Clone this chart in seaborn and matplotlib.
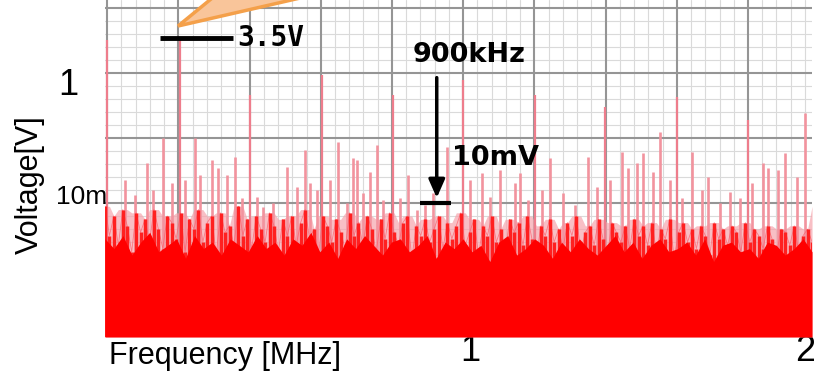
import numpy as np
import matplotlib
matplotlib.use("Agg")
import matplotlib.pyplot as plt
import matplotlib.transforms as mtransforms
from matplotlib.patches import Polygon
from matplotlib.ticker import NullLocator
import seaborn as sns

# ---------------------------------------------------------------- data
# displayed span (MHz) and level range (V)
F_LO, F_HI = -0.09, 2.02
V_LO, V_HI = 8.7e-5, 13.3

# carrier and its harmonics
harmonic_mhz = [-0.084, 0.134, 0.343, 0.558, 0.770, 0.979, 1.194, 1.403, 1.618, 1.830]
harmonic_v = [3.2, 3.5, 0.46, 0.93, 0.46, 0.78, 0.46, 0.30, 0.43, 0.19]

# intermediate spurs
spur_mhz = [-0.030, 0.000, 0.036, 0.054, 0.084, 0.110, 0.149, 0.179, 0.194, 0.230,
            0.248, 0.275, 0.299, 0.319, 0.364, 0.382, 0.412, 0.454, 0.484, 0.507,
            0.522, 0.543, 0.582, 0.606, 0.633, 0.651, 0.663, 0.681, 0.701, 0.722,
            0.740, 0.791, 0.815, 0.842, 0.866, 0.890, 0.931, 1.000, 1.036, 1.060,
            1.090, 1.134, 1.149, 1.173, 1.215, 1.239, 1.278, 1.313, 1.352, 1.379,
            1.418, 1.454, 1.472, 1.499, 1.516, 1.546, 1.567, 1.597, 1.633, 1.663,
            1.693, 1.710, 1.746, 1.776, 1.806, 1.842, 1.875, 1.890, 1.919, 1.940,
            1.976, 2.000]
spur_mv = [22.6, 13.3, 41.2, 15.8, 100, 20.3, 22.6, 100, 27.0, 45.9,
           34.5, 27.0, 51.0, 11.9, 12.4, 8.7, 10.0, 35.8, 17.6, 65.4,
           20.3, 15.8, 22.6, 86.7, 10.0, 49.2, 45.9, 14.3, 30.0, 78.0,
           11.1, 11.9, 27.0, 7.8, 9.3, 14.3, 72.8, 22.6, 29.0, 12.4,
           32.2, 20.3, 29.0, 11.1, 15.8, 49.2, 14.3, 9.3, 51.0, 17.6,
           22.6, 60.9, 34.5, 41.2, 58.8, 30.0, 123.6, 22.6, 11.9, 60.9,
           15.8, 25.1, 10.0, 14.8, 11.9, 20.3, 41.2, 34.5, 32.2, 58.8,
           25.1, 241]

# noise grass, dBV per sweep bin
grass_dbv = [-41, -50, -44, -53, -42, -47, -55, -43, -49, -45, -52, -42, -48, -54, -44, -46, -51, -43, -55, -45,
             -48, -42, -52, -46, -44, -56, -43, -49, -47, -53, -41, -50, -45, -54, -44, -48, -52, -43, -47, -55,
             -45, -50, -44, -53, -46, -42, -51, -48, -56, -44, -47, -52, -45, -49, -54, -43, -50, -46, -53, -44,
             -48, -55, -45, -51, -43, -49, -53, -46, -44, -57, -47, -50, -45, -52, -48, -44, -54, -46, -51, -47,
             -43, -53, -49, -45, -56, -47, -50, -44, -52, -48, -55, -45, -49, -46, -53, -44, -51, -57, -47, -50,
             -45, -52, -48, -54, -46, -50, -44, -55, -49, -47, -53, -45, -51, -56, -46, -49, -52, -47, -54, -45,
             -50, -47, -53, -46, -55, -48, -51, -45, -57, -49, -46, -52, -48, -54, -47, -50, -56, -46, -51, -48,
             -53, -47, -49, -55, -46, -52, -48, -50, -54, -47, -51, -56, -48, -49, -53, -47, -55, -50, -48, -52]

# noise floor, dBV per sweep bin
floor_dbv = [-51, -54, -50, -56, -52, -49, -55, -53, -51, -57, -50, -54, -52, -56, -51, -53, -55, -50, -54, -52,
             -56, -51, -53, -49, -55, -52, -57, -51, -54, -50, -53, -56, -52, -51, -55, -53, -50, -57, -52, -54,
             -51, -55, -53, -58, -52, -50, -56, -54, -51, -53, -57, -52, -55, -51, -54, -56, -53, -50, -55, -52,
             -57, -53, -51, -55, -54, -52, -56, -51, -58, -53, -52, -55, -54, -57, -52, -53, -56, -54, -51, -55]

x_ticks = [1, 2]
x_ticklabels = ["1", "2"]
y_ticks = [1, 0.01]
y_ticklabels = ["1", "10m"]

# ---------------------------------------------------------------- style
sns.set_style("white")
plt.rcParams["font.family"] = ["Liberation Sans", "DejaVu Sans"]
for key in ("text.color", "axes.labelcolor", "xtick.color", "ytick.color"):
    plt.rcParams[key] = "black"

fig = plt.figure(figsize=(8.14, 3.81), dpi=100)
ax = fig.add_axes([0.129, 0.1155, 0.8686, 0.8845])
ax.set_yscale("log")
ax.set_xlim(F_LO, F_HI)
ax.set_ylim(V_LO, V_HI)
for s in ax.spines.values():
    s.set_visible(False)

# analyzer graticule: 0.2125 MHz divisions, 5 sub-divisions; 5 steps per decade
GRID_X0, GRID_DX = -0.0836, 0.2125
i = 0
while GRID_X0 + i * GRID_DX / 5 <= F_HI:
    gx = GRID_X0 + i * GRID_DX / 5
    major = i % 5 == 0
    ax.axvline(gx, color="#959595" if major else "#dadada",
               lw=1.5 if major else 0.8, zorder=0.5 if major else 0.2)
    i += 1
for dec in range(-5, 2):
    for j in range(5):
        gy = 10.0 ** (dec + j / 5)
        major = j == 0
        ax.axhline(gy, color="#959595" if major else "#dadada",
                   lw=1.5 if major else 0.8, zorder=0.5 if major else 0.2)

# ---------------------------------------------------------------- trace
grass_f = np.linspace(F_LO, F_HI, len(grass_dbv))
grass_v = 10 ** (np.array(grass_dbv) / 20.0)
haze_v = np.maximum(grass_v, np.maximum(np.roll(grass_v, 1), np.roll(grass_v, -1)))
floor_f = np.linspace(F_LO, F_HI, len(floor_dbv))
floor_v = 10 ** (np.array(floor_dbv) / 20.0)

ax.fill_between(grass_f, V_LO, haze_v, color="#f6a4ad", alpha=0.7, lw=0, zorder=1)
ax.vlines(spur_mhz, V_LO, np.array(spur_mv) / 1000.0, color="#f2939e", lw=1.9, zorder=1.5)
ax.vlines(harmonic_mhz, V_LO, harmonic_v, color="#ee7d8c", lw=1.6, zorder=1.6)
ax.vlines(grass_f, V_LO, grass_v, color="#ff2020", lw=2.5, zorder=2)
sns.lineplot(x=grass_f, y=grass_v, ax=ax, color="#ff5a66", lw=0.6, alpha=0.7, zorder=1.9)
ax.fill_between(floor_f, V_LO, floor_v, color="#ff0000", lw=0, zorder=3)

# ---------------------------------------------------------------- notes
ax.plot([0.075, 0.293], [3.5, 3.5], color="black", lw=3.5, solid_capstyle="butt", zorder=6)
ax.text(0.304, 3.5, "3.5V", family="DejaVu Sans Mono", weight="bold", fontsize=20,
        ha="left", va="center", zorder=6)

ax.annotate("", xy=(0.9, 0.012), xytext=(0.9, 0.85),
            arrowprops=dict(arrowstyle="-|>,head_length=0.5,head_width=0.22",
                            color="black", lw=2.5, mutation_scale=22,
                            shrinkA=0, shrinkB=0), zorder=6)
ax.text(0.827, 1.89, "900kHz", family="DejaVu Sans", weight="bold", fontsize=19.5,
        ha="left", va="center", zorder=6)
ax.plot([0.851, 0.943], [0.01, 0.01], color="black", lw=3, solid_capstyle="butt", zorder=6)
ax.text(0.946, 0.049, "10mV", family="DejaVu Sans", weight="bold", fontsize=19.5,
        ha="left", va="center", zorder=6)

# callout wedge pointing at the carrier
callout = Polygon([(0.1033, 0.9228), (0.2006, 1.09), (0.4505, 1.09)], closed=True,
                  transform=ax.transAxes, clip_on=False, facecolor="#f9c59a",
                  edgecolor="#f4a04a", lw=2.5, zorder=7)
ax.add_patch(callout)

# ---------------------------------------------------------------- axes text
ax.set_xticks(x_ticks, x_ticklabels)
ax.set_yticks(y_ticks, y_ticklabels)
ax.yaxis.set_minor_locator(NullLocator())
ax.tick_params(axis="x", length=0, pad=-2, labelsize=26)
ax.tick_params(axis="y", length=0, pad=0)
shift = {"1": (-27, -8, 26), "10m": (2, 9, 19)}
for lbl in ax.get_yticklabels():
    dx, dy, fs = shift[lbl.get_text()]
    lbl.set_fontsize(fs)
    lbl.set_transform(lbl.get_transform() +
                      mtransforms.ScaledTranslation(dx / 100, dy / 100, fig.dpi_scale_trans))

ax.set_xlabel("Frequency [MHz]", fontsize=22, ha="left", va="top")
ax.xaxis.set_label_coords(0.005, -0.012)
ax.set_ylabel("Voltage[V]", fontsize=22, va="center", ha="center")
ax.yaxis.set_label_coords(-0.106, 0.451)

fig.savefig("out.png", dpi=100)
